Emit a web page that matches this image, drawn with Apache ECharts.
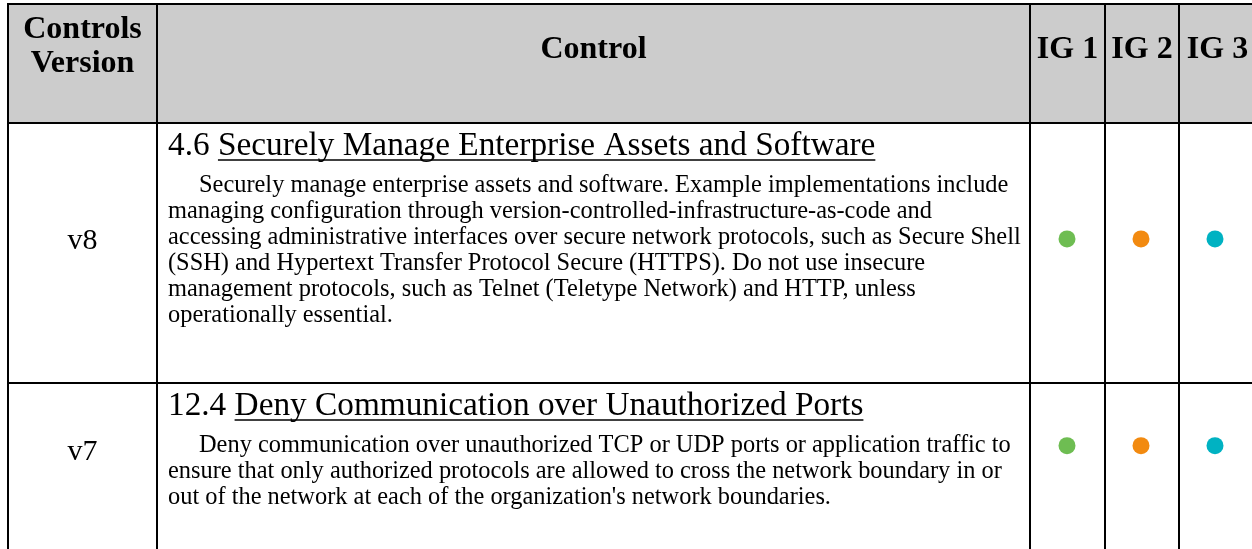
<!DOCTYPE html>
<html><head><meta charset="utf-8">
<script src="https://cdn.jsdelivr.net/npm/echarts@6/dist/echarts.min.js"></script>
<style>html,body{margin:0;padding:0;background:#fff;overflow:hidden}#c{width:1252px;height:549px}</style>
</head><body><div id="c"></div>
<script>
// ---- data ----
const headerVersion = ['Controls', 'Version'];
const headerControl = 'Control';
const igLabels = ['IG 1', 'IG 2', 'IG 3'];
const versions = ['v8', 'v7'];
const controlIds = ['4.6', '12.4'];
const controlTitles = [
  'Securely Manage Enterprise Assets and Software',
  'Deny Communication over Unauthorized Ports'
];
const descriptionLines = [
  [
    'Securely manage enterprise assets and software. Example implementations include',
    'managing configuration through version-controlled-infrastructure-as-code and',
    'accessing administrative interfaces over secure network protocols, such as Secure Shell',
    '(SSH) and Hypertext Transfer Protocol Secure (HTTPS). Do not use insecure',
    'management protocols, such as Telnet (Teletype Network) and HTTP, unless',
    'operationally essential.'
  ],
  [
    'Deny communication over unauthorized TCP or UDP ports or application traffic to',
    'ensure that only authorized protocols are allowed to cross the network boundary in or',
    'out of the network at each of the organization\'s network boundaries.'
  ]
];
const igApplies = [
  [1, 1, 1],
  [1, 1, 1]
];
const igColors = ['#6ebd52', '#f28a10', '#00b2c2'];

// ---- layout ----
const FONT = '"Liberation Serif", "Times New Roman", serif';
const colX = [8, 157, 1030, 1105, 1179, 1256];
const rowY = [4, 123, 383, 580];
const rowCenter = [241, 452];
const titleSize = 33.3, bodySize = 24.4, headSize = 32;
const textLeft = 168, indent = 31, lineGap = 26, titleOffset = 23, firstBodyOffset = 63;

const ctx = document.createElement('canvas').getContext('2d');
function measure(t, size, weight) {
  ctx.font = (weight || 'normal') + ' ' + size + 'px ' + FONT;
  return ctx.measureText(t).width;
}

const g = [];
g.push({type: 'rect', shape: {x: colX[0], y: rowY[0], width: colX[5] - colX[0], height: rowY[1] - rowY[0]},
  style: {fill: '#cccccc'}, z: 0});
rowY.forEach(y => g.push({type: 'line', shape: {x1: colX[0] - 1, y1: y, x2: colX[5], y2: y},
  style: {stroke: '#000', lineWidth: 2}, z: 5}));
colX.forEach(x => g.push({type: 'line', shape: {x1: x, y1: rowY[0] - 1, x2: x, y2: rowY[3]},
  style: {stroke: '#000', lineWidth: 2}, z: 5}));

function txt(t, x, y, size, opts) {
  opts = opts || {};
  return {type: 'text', x: x, y: y, z: 10, style: {text: t, fill: '#000', font: (opts.weight || 'normal') + ' ' + size + 'px ' + FONT,
    align: opts.align || 'left', verticalAlign: 'middle'}};
}
g.push(txt(headerVersion[0], (colX[0] + colX[1]) / 2, 30, headSize, {weight: 'bold', align: 'center'}));
g.push(txt(headerVersion[1], (colX[0] + colX[1]) / 2, 64, headSize, {weight: 'bold', align: 'center'}));
g.push(txt(headerControl, (colX[1] + colX[2]) / 2, 50, headSize, {weight: 'bold', align: 'center'}));
igLabels.forEach((l, i) => g.push(txt(l, (colX[2 + i] + colX[3 + i]) / 2, 50, headSize, {weight: 'bold', align: 'center'})));

versions.forEach((v, r) => {
  g.push(txt(v, (colX[0] + colX[1]) / 2, rowCenter[r], 30, {align: 'center'}));
  const ty = rowY[1 + r] + titleOffset;
  const idW = measure(controlIds[r] + ' ', titleSize);
  g.push(txt(controlIds[r], textLeft, ty, titleSize));
  g.push(txt(controlTitles[r], textLeft + idW, ty, titleSize));
  const tw = measure(controlTitles[r], titleSize);
  const uy = ty + 14;
  g.push({type: 'line', z: 10, shape: {x1: textLeft + idW, y1: uy, x2: textLeft + idW + tw, y2: uy},
    style: {stroke: '#000', lineWidth: 1.5}});
  descriptionLines[r].forEach((line, k) => {
    g.push(txt(line, textLeft + (k === 0 ? indent : 0), rowY[1 + r] + firstBodyOffset + k * lineGap, bodySize));
  });
});

const dotData = [];
igApplies.forEach((row, r) => row.forEach((f, c) => {
  if (f) dotData.push({value: [igLabels[c], versions[r]], itemStyle: {color: igColors[c], opacity: 1}});
}));
const dy = rowCenter[1] - rowCenter[0];

const chart = echarts.init(document.getElementById('c'), null, {renderer: 'canvas'});
chart.setOption({
  animation: false,
  grid: {left: colX[2], width: colX[5] - colX[2], top: rowCenter[0] - dy / 2, height: dy * 2},
  xAxis: {type: 'category', data: igLabels, show: false},
  yAxis: {type: 'category', data: versions, inverse: true, show: false},
  series: [{type: 'scatter', data: dotData, symbolSize: 17, z: 10, itemStyle: {opacity: 1}, emphasis: {disabled: true}}],
  graphic: {elements: g}
});
</script></body></html>
